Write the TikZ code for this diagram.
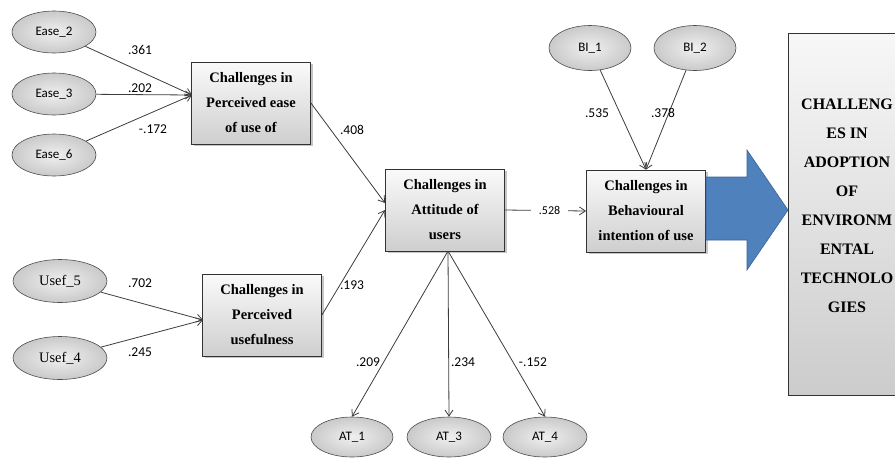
\documentclass[tikz,border=0pt]{standalone}
\usepackage{fontspec}
\setmainfont{Liberation Serif}[BoldFont={Liberation Serif Bold}]
\newfontfamily\calib{Carlito}
\usetikzlibrary{arrows.meta,positioning,shapes.geometric,shadows}
\definecolor{linegray}{HTML}{3C3C3C}
\definecolor{arrowblue}{HTML}{4F81BD}
\definecolor{arrowedge}{HTML}{3A6396}
\tikzset{
  construct/.style={rectangle,draw=black!80,line width=.8pt,top color=gray!4,bottom color=gray!38,
    minimum width=119pt,minimum height=82pt,align=center,inner sep=2pt,
    font=\fontsize{14.5}{25}\selectfont\bfseries,
    drop shadow={shadow xshift=2pt,shadow yshift=-2pt,opacity=.45}},
  item/.style={ellipse,draw=black!70,line width=.6pt,inner color=gray!12,outer color=gray!42,
    minimum width=84pt,minimum height=42pt,font=\calib\fontsize{13}{15}\selectfont},
  itemserif/.style={item,minimum width=94pt,minimum height=43pt,font=\fontsize{14.5}{16}\selectfont},
  coef/.style={font=\calib\fontsize{13.5}{15}\selectfont,inner sep=1pt},
  every edge/.style={draw=linegray,line width=.8pt,-{Straight Barb[length=6pt,width=8pt]}}
}

\begin{document}
\begin{tikzpicture}[x=1pt,y=-1pt]
  \useasboundingbox (0,0) rectangle (895,459);

  % outcome box, cut by the right edge
  \node[rectangle,draw=black!80,line width=.8pt,top color=gray!6,bottom color=gray!40,
    minimum width=118pt,minimum height=362pt,inner sep=0pt] (adoptbox) at (847,214) {};
  \node[align=center,font=\fontsize{16}{29}\selectfont\bfseries] (adopt) at (847,206)
    {CHALLENG\\ES IN\\ADOPTION\\OF\\ENVIRONM\\ENTAL\\TECHNOLO\\GIES};

  % indicators
  \node[item] (e2) at (54,32) {Ease\_2};
  \node[item] (e3) at (54,94) {Ease\_3};
  \node[item] (e6) at (54,155) {Ease\_6};
  \node[itemserif] (u5) at (60,281) {Usef\_5};
  \node[itemserif] (u4) at (60,358) {Usef\_4};
  \node[item,minimum width=82pt,minimum height=45pt] (bi1) at (590,48) {BI\_1};
  \node[item,minimum width=82pt,minimum height=45pt] (bi2) at (695,48) {BI\_2};
  \node[item,minimum width=82pt,minimum height=40pt] (at1) at (352,437) {AT\_1};
  \node[item,minimum width=84pt,minimum height=40pt] (at3) at (449,437) {AT\_3};
  \node[item,minimum width=84pt,minimum height=40pt] (at4) at (545,437) {AT\_4};

  % constructs
  \node[construct] (peou) at (251,103) {Challenges in\\Perceived ease\\of use of};
  \node[construct] (pu) at (262,315) {Challenges in\\Perceived\\usefulness};
  \node[construct] (att) at (445,210) {Challenges in\\Attitude of\\users};
  \node[construct] (bi) at (646,211) {Challenges in\\Behavioural\\intention of use};

  % big arrow
  \draw[fill=arrowblue,draw=arrowedge,line width=.6pt]
    (706,177) -- (747,177) -- (747,150) -- (788,210) -- (747,270) -- (747,240) -- (706,240) -- cycle;

  \coordinate (pin) at (192,95);
  \coordinate (uin) at (203,320);
  \coordinate (ain1) at (385,203);
  \coordinate (ain2) at (385,210);
  \coordinate (aout) at (448,251);

  \path
    (e2) edge (pin)
    (e3) edge (pin)
    (e6) edge (pin)
    (u5) edge (uin)
    (u4) edge (uin)
    (peou.east) edge (ain1)
    (pu.east) edge (ain2)
    (att.east) edge node[coef,fill=white,inner xsep=8pt,pos=.55,font=\calib\fontsize{12}{14}\selectfont] (l528) {.528} (bi.west)
    (bi1) edge (bi.north)
    (bi2) edge (bi.north)
    (aout) edge (at1.north)
           edge (at3.north)
           edge (at4.north);

  % path coefficients
  \node[coef] (l361) at (140,50) {.361};
  \node[coef] (l202) at (140,88) {.202};
  \node[coef] (l172) at (153,129) {-.172};
  \node[coef] (l702) at (140,283) {.702};
  \node[coef] (l245) at (140,352) {.245};
  \node[coef] (l408) at (352,130) {.408};
  \node[coef] (l193) at (352,285) {.193};
  \node[coef] (l535) at (597,113) {.535};
  \node[coef] (l378) at (663,113) {.378};
  \node[coef] (l209) at (368,362) {.209};
  \node[coef] (l234) at (463,362) {.234};
  \node[coef] (l152) at (533,362) {-.152};
\end{tikzpicture}
\end{document}
